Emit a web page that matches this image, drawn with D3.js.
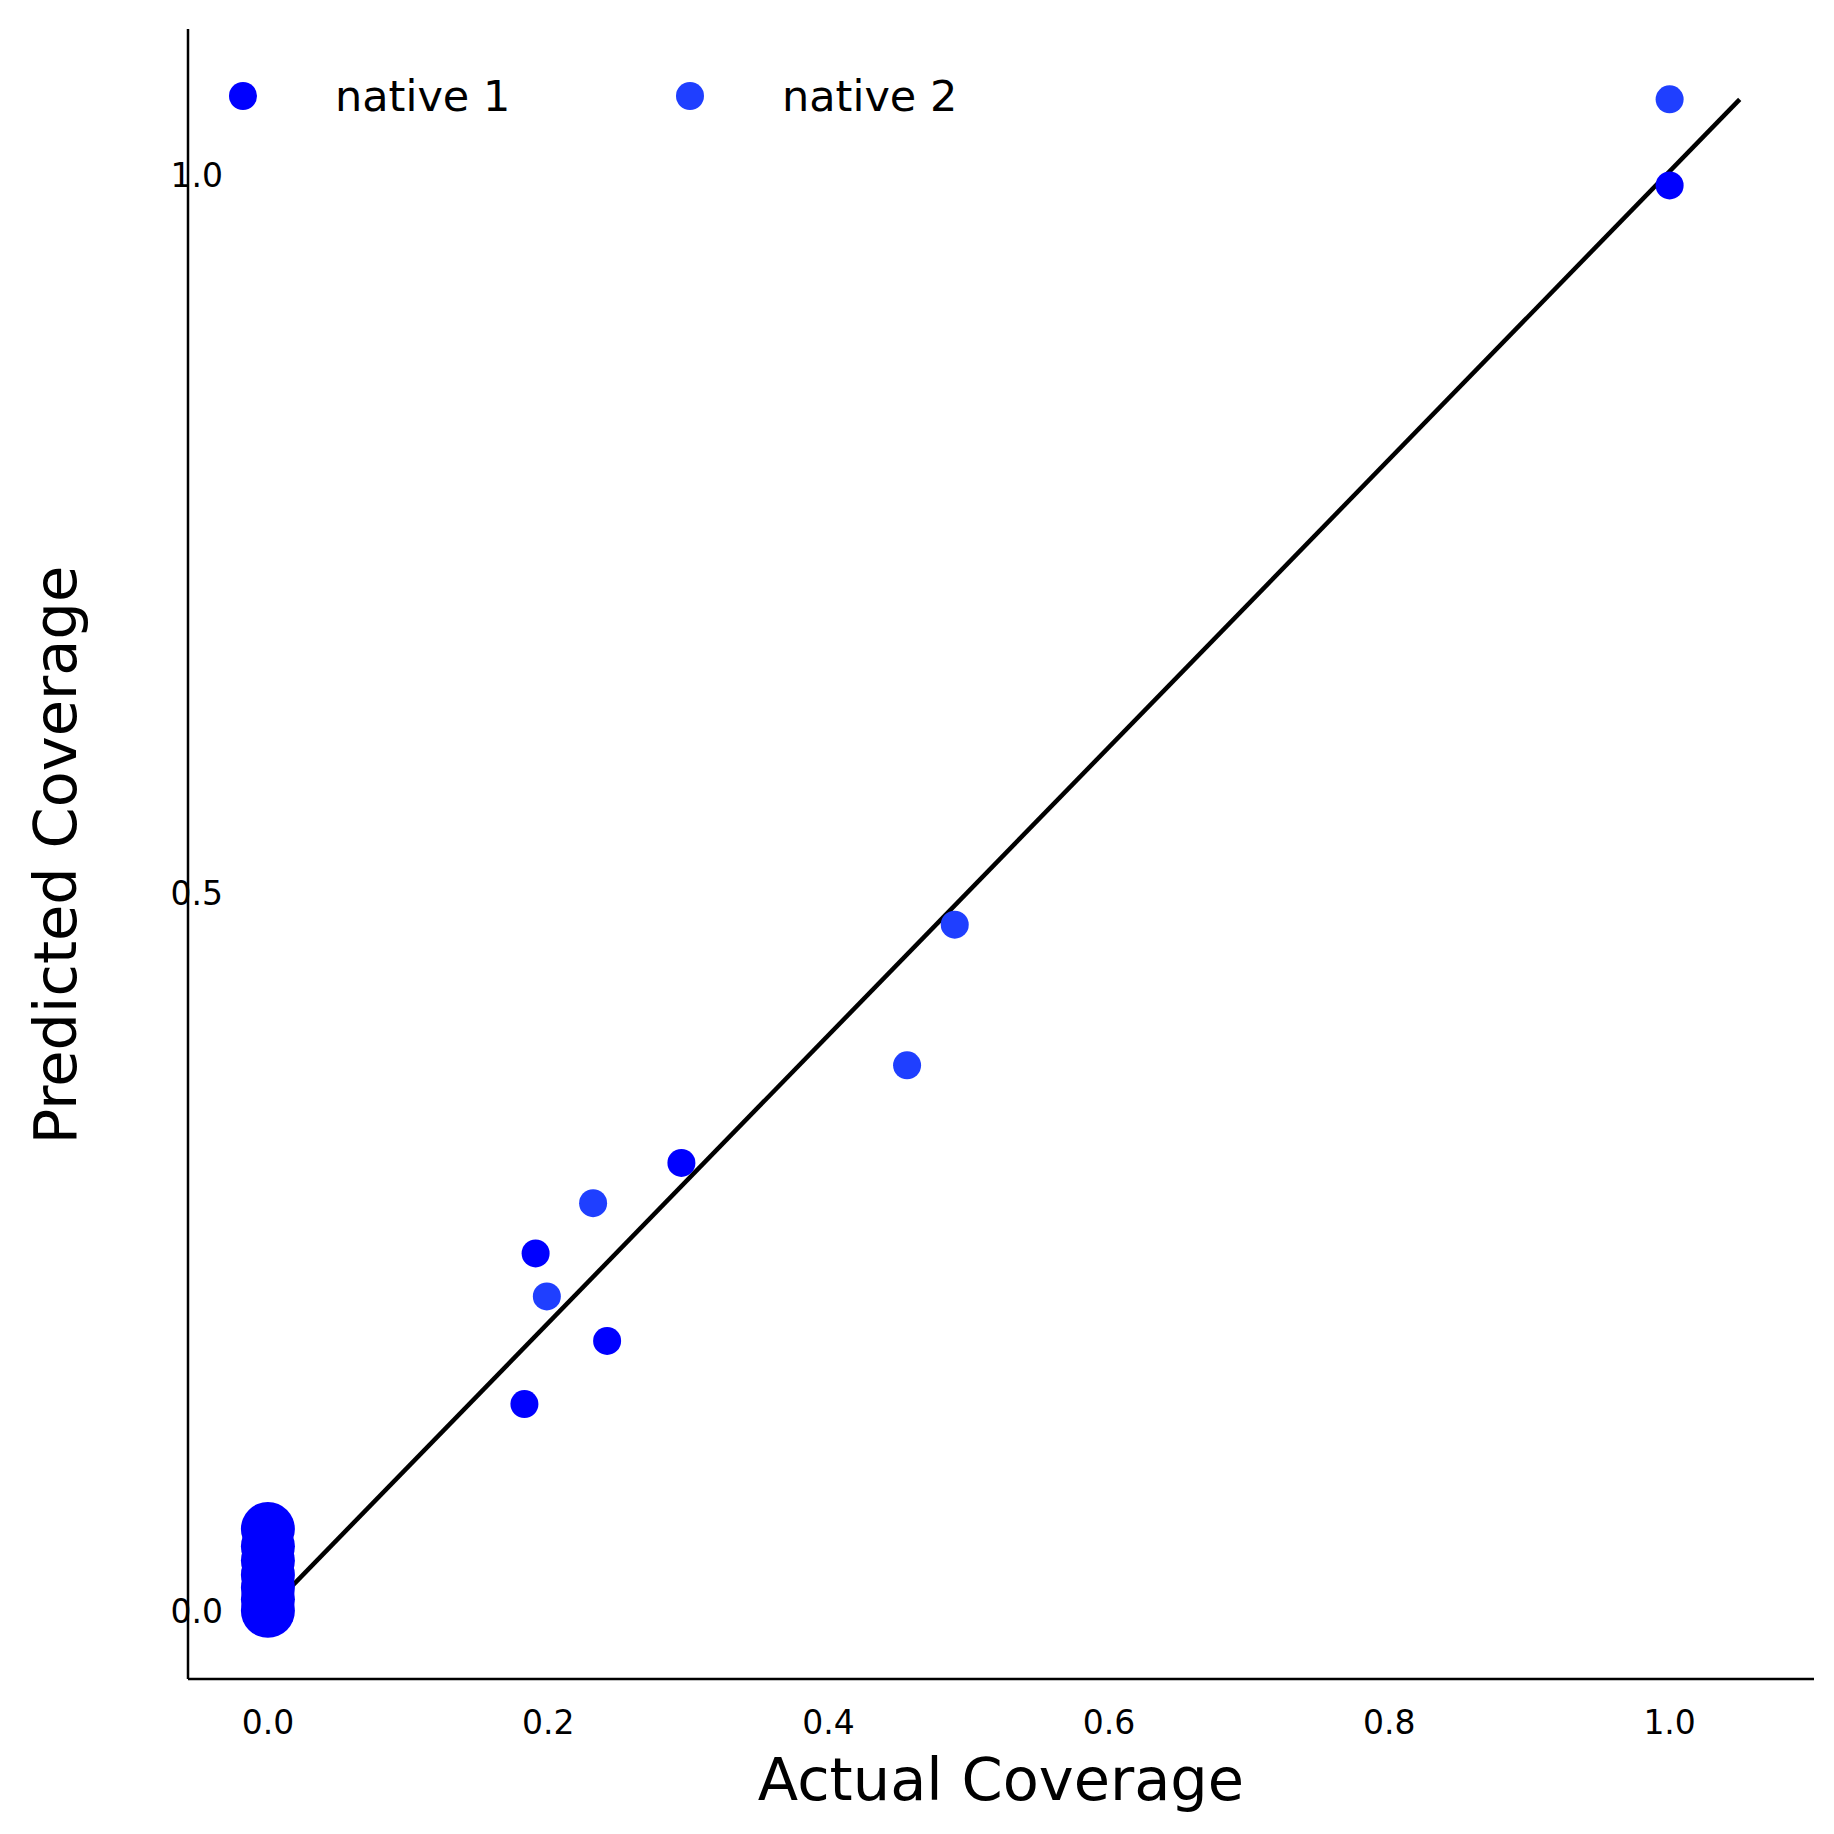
<!DOCTYPE html><html><head><meta charset="utf-8"><script src="https://cdn.jsdelivr.net/npm/d3@7"></script>
<style>body{margin:0;background:#fff}</style></head><body><svg id="c" width="1834" height="1834"></svg><script>
const native1X=[1.0,0.295,0.191,0.242,0.183];
const native1Y=[0.993,0.312,0.249,0.188,0.144];
const native2X=[1.0,0.49,0.456,0.232,0.199];
const native2Y=[1.053,0.478,0.380,0.284,0.219];
const zeroX=[0,0,0,0,0,0,0];
const zeroY=[0.0,0.008,0.016,0.025,0.035,0.045,0.057];
const xTicks=[0,0.2,0.4,0.6,0.8,1.0];
const yTicks=[0,0.5,1.0];
const seriesNames=["native 1","native 2"];
const colors=["#0000ff","#1f3fff"];
const svg=d3.select("#c");
const L=188,R=1814,T=29,B=1679;
const x=d3.scaleLinear().domain([-0.057,1.103]).range([L,R]);
const y=d3.scaleLinear().domain([-0.0475,1.102]).range([B,T]);
const f="DejaVu Sans, sans-serif";
svg.append("line").attr("x1",L).attr("x2",L).attr("y1",T).attr("y2",B).attr("stroke","#000").attr("stroke-width",2.5);
svg.append("line").attr("x1",L).attr("x2",R).attr("y1",B).attr("y2",B).attr("stroke","#000").attr("stroke-width",2.5);
xTicks.forEach(t=>svg.append("text").attr("x",x(t)).attr("y",B+55).attr("text-anchor","middle").attr("font-family",f).attr("font-size",33).text(t.toFixed(1)));
yTicks.forEach(t=>svg.append("text").attr("x",L+35).attr("y",y(t)+12).attr("text-anchor","end").attr("font-family",f).attr("font-size",33).text(t.toFixed(1)));
svg.append("text").attr("x",(L+R)/2).attr("y",1800).attr("text-anchor","middle").attr("font-family",f).attr("font-size",59).text("Actual Coverage");
svg.append("text").attr("transform","translate(76,855) rotate(-90)").attr("text-anchor","middle").attr("font-family",f).attr("font-size",59).text("Predicted Coverage");
svg.append("line").attr("x1",x(0)).attr("y1",y(0)).attr("x2",x(1.05)).attr("y2",y(1.053)).attr("stroke","#000").attr("stroke-width",4.5);
zeroX.forEach((v,i)=>svg.append("circle").attr("cx",x(v)).attr("cy",y(zeroY[i])).attr("r",27).attr("fill",colors[0]));
native1X.forEach((v,i)=>svg.append("circle").attr("cx",x(v)).attr("cy",y(native1Y[i])).attr("r",14).attr("fill",colors[0]));
native2X.forEach((v,i)=>svg.append("circle").attr("cx",x(v)).attr("cy",y(native2Y[i])).attr("r",14).attr("fill",colors[1]));
[[243,335],[690,782]].forEach((p,i)=>{
svg.append("circle").attr("cx",p[0]).attr("cy",96).attr("r",14).attr("fill",colors[i]);
svg.append("text").attr("x",p[1]).attr("y",111).attr("font-family",f).attr("font-size",43).text(seriesNames[i]);});
</script></body></html>
